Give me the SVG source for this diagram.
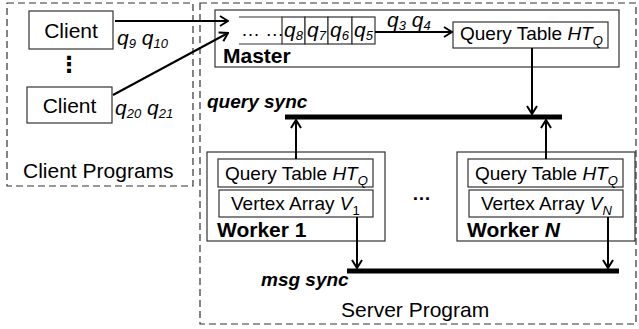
<svg xmlns="http://www.w3.org/2000/svg" width="639" height="329" viewBox="0 0 639 329">
<style>
text{font-family:"Liberation Sans",Arial,sans-serif;fill:#000}
.box{fill:#fff;stroke:#333;stroke-width:1.2}
.dash{fill:none;stroke:#333;stroke-width:1.2;stroke-dasharray:7,4}
.ln{fill:none;stroke:#000;stroke-width:2}
.bar{fill:none;stroke:#000;stroke-width:5}
.t21{font-size:21px}
.t19{font-size:19px}
.b{font-weight:bold}
.bi{font-weight:bold;font-style:italic}
.i{font-style:italic}
.sub{font-size:13px}
</style>
<defs>
<marker id="arr" viewBox="0 0 10 12" refX="9" refY="6" markerWidth="10" markerHeight="12" orient="auto" markerUnits="userSpaceOnUse">
<polyline points="1,1 9,6 1,11" fill="none" stroke="#000" stroke-width="2"/>
</marker>
</defs>
<g id="client-programs">
<rect class="dash" x="7" y="3" width="186" height="183"/>
<text class="t21" x="23" y="178">Client Programs</text>
</g>
<g id="server-program">
<rect class="dash" x="200" y="3" width="436" height="321"/>
<text class="t21" x="341" y="317">Server Program</text>
</g>
<g id="client1">
<rect class="box" x="29" y="11" width="84" height="38"/>
<text class="t21" x="71" y="38" text-anchor="middle">Client</text>
</g>
<g id="client-dots">
<text x="69" y="72" font-size="22" font-weight="bold" text-anchor="middle" style="font-family:'DejaVu Sans',sans-serif">⋮</text>
</g>
<g id="client2">
<rect class="box" x="27" y="87" width="85" height="36"/>
<text class="t21" x="69.5" y="113" text-anchor="middle">Client</text>
</g>
<g id="master">
<rect class="box" x="215" y="10" width="404" height="57"/>
<text class="t21 b" x="223" y="63">Master</text>
<line class="ln" x1="239" y1="17" x2="282" y2="17" style="stroke-width:1.2;stroke:#333"/>
<line class="ln" x1="239" y1="44" x2="282" y2="44" style="stroke-width:1.2;stroke:#333"/>
<text class="t19" x="241" y="36">… …</text>
<rect class="box" x="282" y="17" width="23" height="27"/>
<rect class="box" x="305" y="17" width="23" height="27"/>
<rect class="box" x="328" y="17" width="24" height="27"/>
<rect class="box" x="352" y="17" width="23" height="27"/>
<text class="t21 i" x="284" y="37">q<tspan class="sub" dy="3">8</tspan></text>
<text class="t21 i" x="307" y="37">q<tspan class="sub" dy="3">7</tspan></text>
<text class="t21 i" x="330" y="37">q<tspan class="sub" dy="3">6</tspan></text>
<text class="t21 i" x="354" y="37">q<tspan class="sub" dy="3">5</tspan></text>
</g>
<g id="master-query-table">
<rect class="box" x="453" y="22" width="155" height="26"/>
<text class="t19" x="460" y="40">Query Table <tspan class="i">HT</tspan><tspan class="sub i" dy="5">Q</tspan></text>
</g>
<g id="worker1">
<rect class="box" x="207" y="152" width="178" height="89"/>
<rect class="box" x="218" y="159" width="155" height="28"/>
<text class="t19" x="225" y="180">Query Table <tspan class="i">HT</tspan><tspan class="sub i" dy="5">Q</tspan></text>
<rect class="box" x="219" y="190" width="154" height="27"/>
<text class="t19" x="231" y="210">Vertex Array <tspan class="i">V</tspan><tspan class="sub" dy="5">1</tspan></text>
<text class="t21 b" x="217" y="237">Worker 1</text>
</g>
<g id="worker-dots">
<text class="t19 b" x="412" y="200">…</text>
</g>
<g id="workerN">
<rect class="box" x="457" y="152" width="178" height="89"/>
<rect class="box" x="468" y="159" width="155" height="28"/>
<text class="t19" x="475" y="180">Query Table <tspan class="i">HT</tspan><tspan class="sub i" dy="5">Q</tspan></text>
<rect class="box" x="469" y="190" width="154" height="27"/>
<text class="t19" x="481" y="210">Vertex Array <tspan class="i">V</tspan><tspan class="sub i" dy="5">N</tspan></text>
<text class="t21 b" x="467" y="237">Worker <tspan class="i">N</tspan></text>
</g>
<g id="query-sync">
<line class="bar" x1="285" y1="117" x2="562" y2="117"/>
<text class="t19 bi" x="207" y="108">query sync</text>
</g>
<g id="msg-sync">
<line class="bar" x1="347" y1="271" x2="619" y2="271"/>
<text class="t19 bi" x="261" y="286">msg sync</text>
</g>
<g id="connectors">
<line class="ln" x1="115" y1="21" x2="228" y2="21" marker-end="url(#arr)"/>
<line class="ln" x1="113" y1="95" x2="228" y2="33" marker-end="url(#arr)"/>
<line class="ln" x1="375" y1="32" x2="452" y2="32" marker-end="url(#arr)"/>
<line class="ln" x1="532" y1="48" x2="532" y2="114" marker-end="url(#arr)"/>
<line class="ln" x1="296" y1="159" x2="296" y2="120" marker-end="url(#arr)"/>
<line class="ln" x1="546" y1="159" x2="546" y2="120" marker-end="url(#arr)"/>
<line class="ln" x1="357" y1="217" x2="357" y2="268" marker-end="url(#arr)"/>
<line class="ln" x1="608" y1="217" x2="608" y2="268" marker-end="url(#arr)"/>
</g>
<g id="labels">
<text class="t21 i" x="117" y="45">q<tspan class="sub" dy="3">9</tspan><tspan dy="-3"> q</tspan><tspan class="sub" dy="3">10</tspan></text>
<text class="t21 i" x="115" y="115">q<tspan class="sub" dy="3">20</tspan><tspan dy="-3"> q</tspan><tspan class="sub" dy="3">21</tspan></text>
<text class="t21 i" x="387" y="27">q<tspan class="sub" dy="3">3</tspan><tspan dy="-3"> q</tspan><tspan class="sub" dy="3">4</tspan></text>
</g>
</svg>
